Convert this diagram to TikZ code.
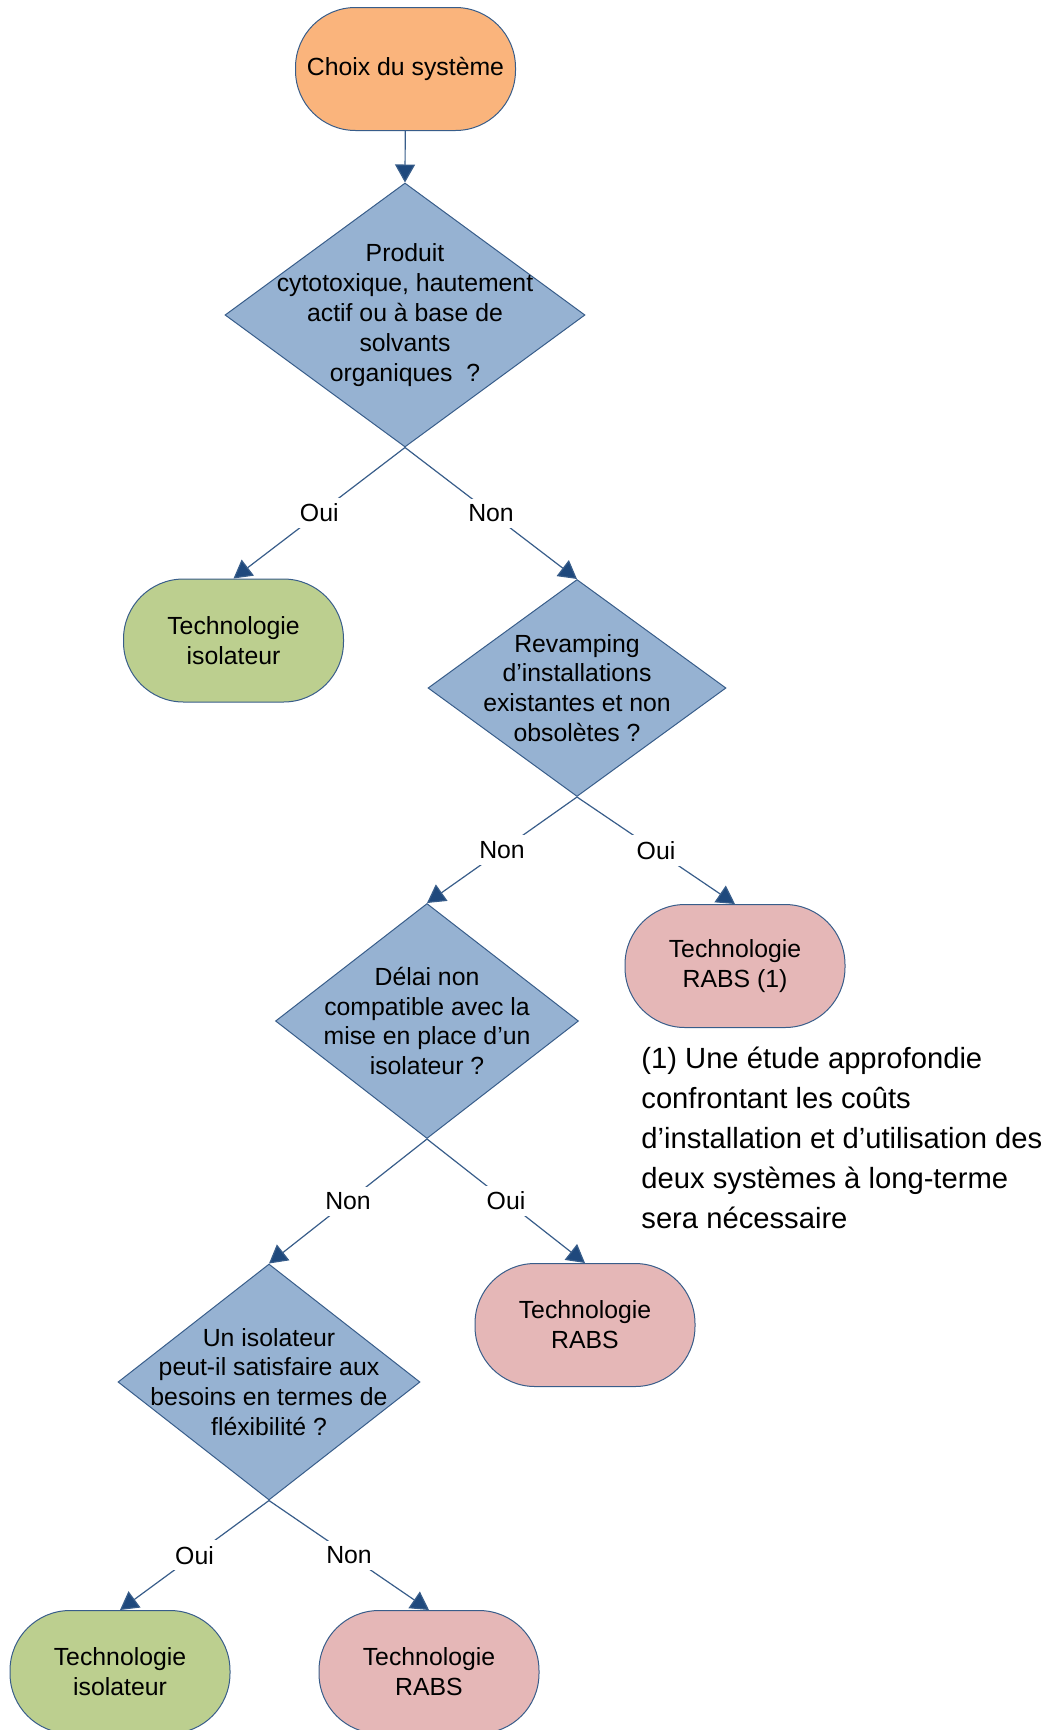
\documentclass[tikz,border=0pt]{standalone}
\usepackage{fontspec}
\setmainfont{Liberation Sans}
\usepackage{tikz}
\usetikzlibrary{shapes.geometric, arrows.meta, positioning}
\definecolor{cOrange}{RGB}{250,180,124}
\definecolor{cBlue}{RGB}{150,178,210}
\definecolor{cGreen}{RGB}{188,207,143}
\definecolor{cPink}{RGB}{229,183,183}
\definecolor{cLine}{RGB}{56,93,138}
\definecolor{cArrow}{RGB}{31,73,125}
\tikzset{
	startstop/.style={rectangle, rounded corners=30pt, minimum width=110pt, minimum height=61.5pt, draw=cLine, line width=0.5pt, align=center, inner sep=0pt},
	decision/.style ={diamond, draw=cLine, line width=0.5pt, fill=cBlue, inner sep=0pt},
	qtext/.style    ={align=center, inner sep=0pt},
	flowarrow/.style={-{Triangle[length=9pt, width=10pt, fill=cArrow]}, draw=cLine, line width=0.6pt},
	answer/.style   ={fill=white, inner sep=3pt},
}

\begin{document}
\begin{tikzpicture}[x=0.5pt, y=-0.5pt, font=\fontsize{12.4}{14.9}\selectfont]
	\useasboundingbox (0,0) rectangle (1049,1730);
	\node[startstop, fill=cOrange] (start) at (405.5,69) {Choix du système};
	% first question
	\node[decision, minimum width=180pt, minimum height=132pt] (d1) at (405,315) {};
	\node[qtext] (q1) at (d1) {Produit\\cytotoxique, hautement\\actif ou à base de\\solvants\\organiques~ ?};
	\node[startstop, fill=cGreen] (iso1) at (233.5,640.5) {Technologie\\isolateur};
	\node[decision, minimum width=149pt, minimum height=108.5pt] (d2) at (577,688) {};
	\node[qtext] (q2) at (d2) {Revamping\\d’installations\\existantes et non\\obsolètes ?};
	% second level
	\node[startstop, fill=cPink] (rabs1) at (735,966) {Technologie\\RABS (1)};
	\node[decision, minimum width=151.5pt, minimum height=117.5pt] (d3) at (427,1021) {};
	\node[qtext] (q3) at (d3) {Délai non\\compatible avec la\\mise en place d’un\\isolateur ?};
	\node[startstop, fill=cPink] (rabs2) at (585,1325) {Technologie\\RABS};
	\node[decision, minimum width=151pt, minimum height=118pt] (d4) at (269,1382) {};
	\node[qtext] (q4) at (d4) {Un isolateur\\peut-il satisfaire aux\\besoins en termes de\\fléxibilité ?};
	\node[startstop, fill=cGreen] (iso2) at (120,1672) {Technologie\\isolateur};
	\node[startstop, fill=cPink] (rabs3) at (429,1672) {Technologie\\RABS};
	% footnote
	\node[anchor=west, align=left, inner sep=0pt, font=\fontsize{14.6}{20}\selectfont] (note) at (641,1138) {(1) Une étude approfondie\\confrontant les coûts\\d’installation et d’utilisation des\\deux systèmes à long-terme\\sera nécessaire};
	% connectors
	\draw[flowarrow] (start) -- (d1.north);
	\draw[flowarrow] (d1.south) -- node[answer] {Oui} (iso1.north);
	\draw[flowarrow] (d1.south) -- node[answer] {Non} (d2.north);
	\draw[flowarrow] (d2.south) -- node[answer] {Non} (d3.north);
	\draw[flowarrow] (d2.south) -- node[answer] {Oui} (rabs1.north);
	\draw[flowarrow] (d3.south) -- node[answer] {Non} (d4.north);
	\draw[flowarrow] (d3.south) -- node[answer] {Oui} (rabs2.north);
	\draw[flowarrow] (d4.south) -- node[answer] {Oui} (iso2.north);
	\draw[flowarrow] (d4.south) -- node[answer] {Non} (rabs3.north);
\end{tikzpicture}
\end{document}
